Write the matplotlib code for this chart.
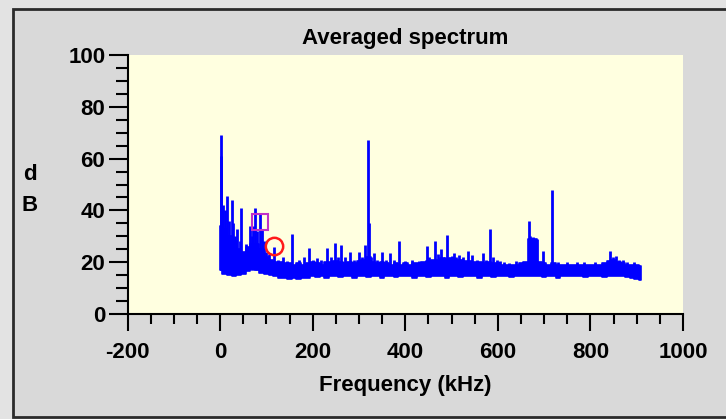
import matplotlib.pyplot as plt
from matplotlib.patches import Rectangle
from matplotlib.ticker import MultipleLocator

plt.rcParams['font.family'] = ['Liberation Sans', 'DejaVu Sans']
plt.rcParams['font.weight'] = 'bold'
plt.rcParams['axes.unicode_minus'] = False

# noise floor of the averaged spectrum, every 10 kHz
band_freq = list(range(0, 920, 10))
band_high = [34, 33, 30, 28, 25, 24, 26, 27, 27, 25,
             22, 21, 20, 20, 19.5, 19.5, 19, 19.5, 19, 19.5,
             20, 19.5, 19, 20, 20, 20.5, 20, 19.5, 20, 19.5,
             20.5, 21, 22, 20, 19.5, 20, 19.5, 19, 19.5, 19,
             19.5, 19, 19.5, 19.5, 20, 20.5, 21, 21, 21.5, 21,
             21.5, 21, 21, 20.5, 20.5, 20, 20, 19.5, 20, 19.5,
             19.5, 19, 19, 19, 19, 19.5, 20, 29, 29, 20,
             19.5, 19, 19.5, 19, 19, 19, 19, 19, 19, 19,
             19, 19, 19, 19.5, 20.5, 21, 20, 19.5, 19, 19,
             19, 18.5]
band_low = [17, 15.5, 15, 14.8, 15, 15.5, 16.5, 17.8, 17, 16,
            15.5, 15, 14.5, 14, 13.8, 13.5, 13.8, 13.5, 14, 14,
            14.5, 14.2, 14.5, 14, 14.5, 14.5, 14.2, 14.5, 14.5, 14,
            14.5, 14.5, 14.2, 14.5, 14.5, 14, 14.5, 14.5, 14.2, 14.5,
            14.5, 14.5, 14, 14.5, 14.5, 14.2, 14.5, 14.5, 14.5, 14,
            14.5, 14.5, 14.2, 14.5, 14.5, 14.5, 14, 14.5, 14.5, 14.2,
            14.5, 14.5, 14.5, 14.2, 14.5, 14.5, 14.5, 14.5, 14.5, 14.5,
            14.2, 14.5, 14.5, 14, 14.5, 14.5, 14.5, 14.5, 14.5, 14.2,
            14.5, 14.5, 14.5, 14.2, 14.5, 14.5, 14.5, 14.5, 14.2, 14,
            13.5, 13]

# narrow peaks (kHz, dB)
spike_freq = [1, 3, 6, 10, 15, 19, 25, 28, 33, 37, 42, 45, 50, 56, 60, 64, 68, 72, 76, 80,
              86, 90, 95, 100, 105, 110, 116, 125, 135, 145, 156, 170, 182, 192, 200, 210, 218,
              231, 240, 249, 255, 262, 270, 280, 290, 301, 306, 312, 320, 322, 325, 332, 340,
              350, 358, 368, 376, 386, 400, 415, 430, 447, 452, 465, 470, 478, 485, 491, 500,
              505, 510, 517, 525, 536, 545, 555, 567, 575, 584, 590, 598, 605, 613, 625, 640,
              655, 667, 670, 675, 680, 684, 697, 717, 730, 750, 770, 787, 810, 843, 848, 855,
              862, 870, 880, 895]
spike_db = [69, 61, 42, 40, 45.5, 36, 44, 35, 30, 33, 28, 41, 22, 27, 25, 34, 30, 34, 41, 32,
            39, 33, 28, 24, 23, 21, 26, 21, 22, 20.5, 31, 21, 22, 25.5, 21, 21.5, 21,
            25.5, 22, 27.4, 22, 26.6, 22, 24, 21, 24, 22, 26.6, 67, 35, 22, 23.5, 21,
            24, 21, 23.5, 21, 28, 20.5, 21, 20.5, 26.4, 22, 28, 23, 25, 22, 30.5, 22.5,
            23.7, 22, 22.8, 22, 24.3, 22.8, 21, 23.7, 21, 33, 22, 21, 20.5, 20, 19.5, 20.5,
            20, 36, 30, 29.7, 29, 29, 24.3, 47.9, 20, 20, 20, 20.2, 20, 24.4, 22, 22.5,
            21, 21, 20, 20]

# cursor markers
square_pt = (86, 35.7)
circle_pt = (117, 26.3)

fig = plt.figure(figsize=(7.26, 4.19), dpi=100)
fig.patch.set_facecolor('#e3e3e3')
frame = Rectangle((13 / 726, 2 / 419), 1.0, 408 / 419, transform=fig.transFigure,
                  facecolor='#d9d9d9', edgecolor='#2b2b2b', linewidth=2, zorder=-5)
fig.add_artist(frame)

ax = fig.add_axes([127.5 / 726, 105 / 419, 555.5 / 726, 259 / 419])
ax.set_zorder(2)
ax.set_facecolor('#ffffe0')

ax.fill_between(band_freq, band_low, band_high, step='mid', color='#0000ff', linewidth=1.2)
ax.vlines(spike_freq, 17, spike_db, color='#0000ff', linewidth=2)
ax.plot(*square_pt, marker='s', markersize=12, markerfacecolor='none',
        markeredgecolor='#c030c8', markeredgewidth=1.5, linestyle='none')
ax.plot(*circle_pt, marker='o', markersize=12.5, markerfacecolor='none',
        markeredgecolor='#ff1a1a', markeredgewidth=1.8, linestyle='none')

ax.set_xlim(-200, 1000)
ax.set_ylim(0, 100)
ax.spines['top'].set_visible(False)
ax.spines['right'].set_visible(False)
ax.spines['left'].set_linewidth(1.5)
ax.spines['bottom'].set_linewidth(1.5)

ax.xaxis.set_major_locator(MultipleLocator(200))
ax.xaxis.set_minor_locator(MultipleLocator(50))
ax.yaxis.set_major_locator(MultipleLocator(20))
ax.yaxis.set_minor_locator(MultipleLocator(5))
ax.tick_params(axis='x', which='major', length=12, width=1.5, pad=8, labelsize=16)
ax.tick_params(axis='x', which='minor', length=7, width=1.5)
ax.tick_params(axis='y', which='major', length=14, width=1.5, pad=2, labelsize=16)
ax.tick_params(axis='y', which='minor', length=8.5, width=1.5)

ax.set_title('Averaged spectrum', fontsize=16, fontweight='bold', pad=8)
ax.set_xlabel('Frequency (kHz)', fontsize=16, fontweight='bold', labelpad=9)
fig.text(30 / 726, 0.5465, 'd\nB', ha='center', va='center', fontsize=16,
         fontweight='bold', linespacing=1.6)

fig.savefig('out.png', dpi=100)
